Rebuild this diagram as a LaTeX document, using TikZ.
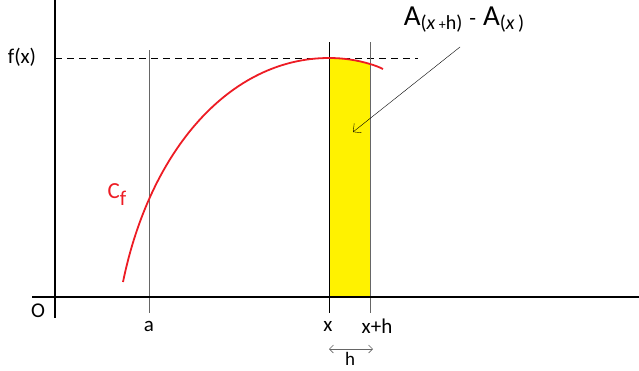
\documentclass[tikz,border=0pt]{standalone}
\usepackage{fontspec}
\setmainfont{Carlito}
\usepackage{tikz}
\usetikzlibrary{arrows.meta,positioning}
\definecolor{curvered}{HTML}{ED1C24}
\definecolor{areayellow}{HTML}{FFF200}

\begin{document}
\begin{tikzpicture}[x=1pt, y=-1pt,
    axis/.style={line width=1.8pt, black},
    guide/.style={line width=0.6pt, gray!80!black},
    lbl/.style={font=\fontsize{21}{21}\selectfont, inner sep=1pt},
]
\useasboundingbox (0,0) rectangle (639,370);

% Area under the curve
\fill[areayellow] (329,297) -- (329,58) .. controls (343,58) and (357,60) .. (370,64) -- (370,297) -- cycle;

% Guides
\draw[dashed, line width=0.5pt, dash pattern=on 7pt off 5pt] (55,58) -- (418,58);
\draw[guide] (149,50) -- (149,313);
\draw[line width=0.6pt, black] (329,42) -- (329,313);
\draw[guide] (370,42) -- (370,313);

% Axes
\draw[axis] (55,0) -- (55,318);
\draw[axis] (32,297) -- (639,297);

% Curve
\draw[curvered, line width=1.8pt] (123,282) .. controls (150,150) and (230,58) .. (329,58)
    .. controls (343,58) and (357,60) .. (370,64) .. controls (375,65.5) and (379,67) .. (383,69);
\node[text=curvered, font=\fontsize{23}{23}\selectfont, inner sep=0pt] (cf) at (117,195) {C\raisebox{-7pt}{\fontsize{21}{21}\selectfont f}};

% Labels
\node[lbl] (fx) at (22,57) {f(x)};
\node[lbl] (orig) at (38,311) {O};
\node[lbl] (a) at (149,326) {a};
\node[lbl] (x) at (328,326) {x};
\node[lbl] (xh) at (377,326) {x+h};
\node[lbl, font=\fontsize{19}{19}\selectfont, anchor=base, inner sep=0pt] (h) at (350,365) {h};
\node[inner sep=0pt] (area) at (464,20) {{\fontsize{29}{29}\selectfont A}\raisebox{-4pt}{\fontsize{20}{20}\selectfont(\textit{x}\,\fontsize{14}{14}\selectfont+\fontsize{20}{20}\selectfont h)}\hspace{7pt}{\fontsize{22}{22}\selectfont -}\hspace{7pt}{\fontsize{29}{29}\selectfont A}\raisebox{-4pt}{\fontsize{20}{20}\selectfont(\textit{x}\,)}};

% Arrows
\coordinate (ain) at (353,132);
\coordinate (aout) at (460,47);
\draw[-{Straight Barb[length=6pt]}, line width=0.4pt] (aout) -- (ain);
\coordinate (hl) at (329,349);
\coordinate (hr) at (373,349);
\draw[{Straight Barb[length=4pt]}-{Straight Barb[length=4pt]}, line width=0.6pt, gray!80!black] (hl) -- (hr);
\end{tikzpicture}
\end{document}
